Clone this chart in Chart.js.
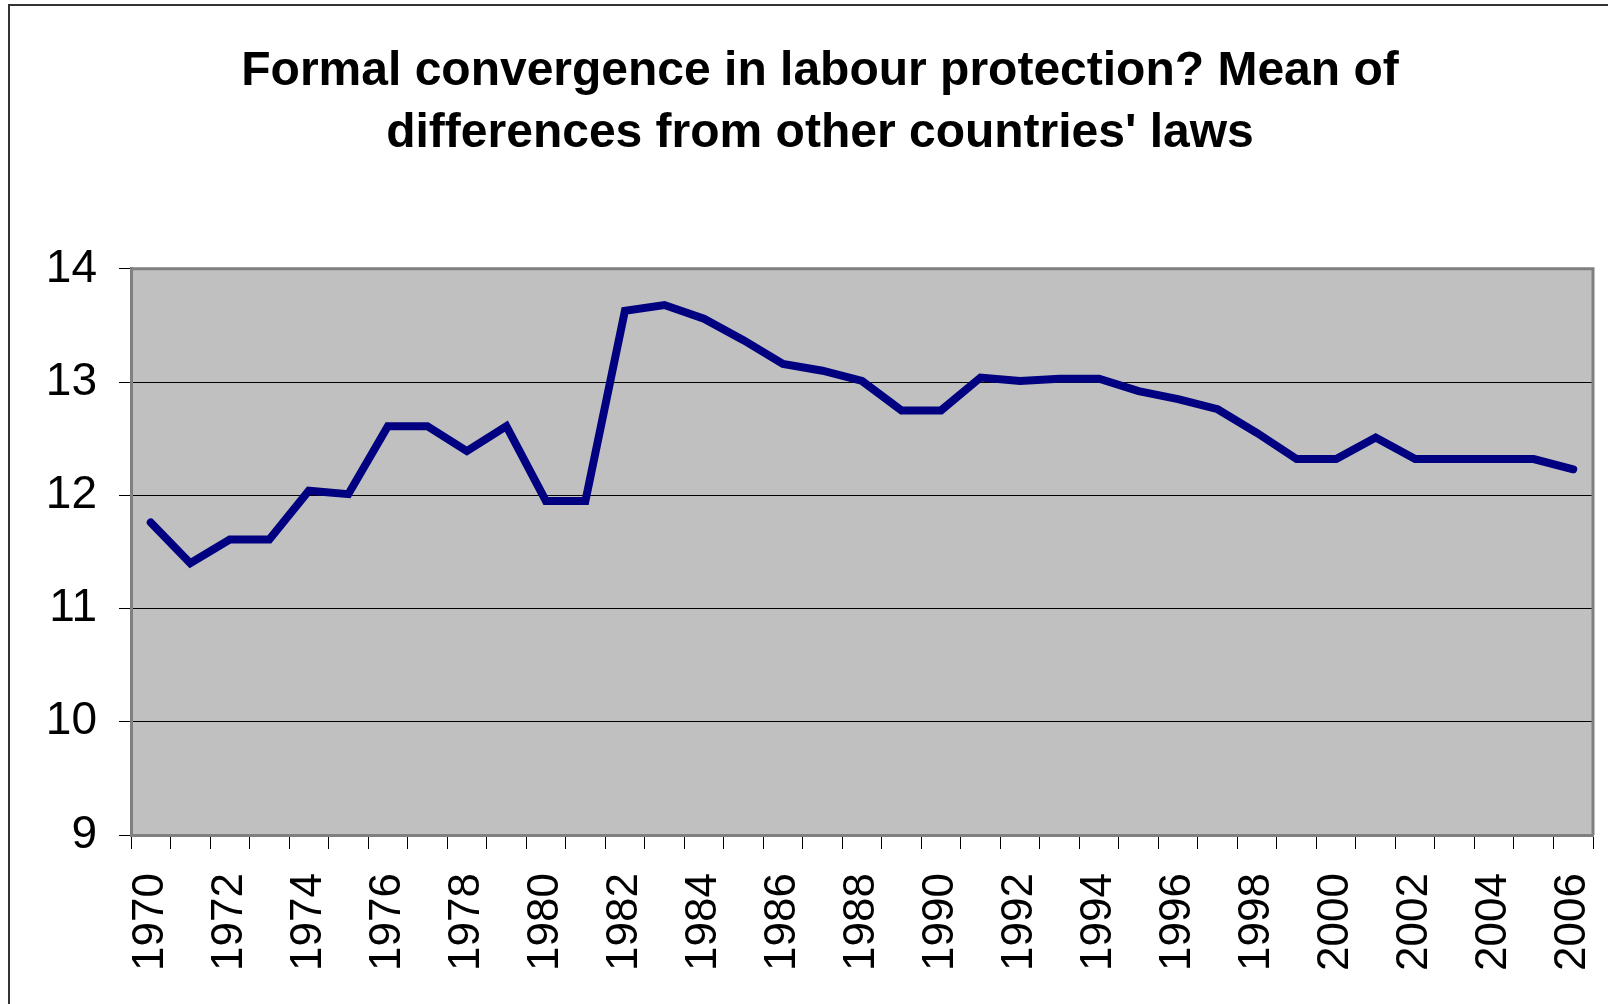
<!DOCTYPE html>
<html>
<head>
<meta charset="utf-8">
<title>Formal convergence in labour protection</title>
<script src="https://cdn.jsdelivr.net/npm/chart.js@4.4.1/dist/chart.umd.min.js"></script>
<style>
    body { margin: 0; background: #fff; overflow: hidden; }
    #wrap { position: relative; width: 1608px; height: 1004px; }
    #frame {
        position: absolute; left: 8px; top: 4px; width: 1700px; height: 1100px;
        border-top: 2px solid #333; border-left: 2px solid #333;
    }
    #chart { position: absolute; left: 0; top: 0; }
</style>
</head>
<body>
<div id="wrap">
    <div id="frame"></div>
    <canvas id="chart" width="1608" height="1004"></canvas>
</div>
<script>
const years = [
    "1970", "1971", "1972", "1973", "1974", "1975", "1976", "1977", "1978", "1979",
    "1980", "1981", "1982", "1983", "1984", "1985", "1986", "1987", "1988", "1989",
    "1990", "1991", "1992", "1993", "1994", "1995", "1996", "1997", "1998", "1999",
    "2000", "2001", "2002", "2003", "2004", "2005", "2006"
];

// mean of differences
const meanDiff = [
    11.76, 11.40, 11.61, 11.61, 12.04, 12.01, 12.61, 12.61, 12.39, 12.61,
    11.95, 11.95, 13.63, 13.68, 13.56, 13.37, 13.16, 13.10, 13.01, 12.75,
    12.75, 13.04, 13.01, 13.03, 13.03, 12.92, 12.85, 12.76, 12.55, 12.32,
    12.32, 12.51, 12.32, 12.32, 12.32, 12.32, 12.23
];

const yMin = 9;
const yMax = 14;

const titleLines = [
    "Formal convergence in labour protection? Mean of",
    "differences from other countries' laws"
];

const fontFamily = "'Liberation Sans', Arial, sans-serif";

// grey plot area with the excel style border
const plotArea = {
    id: "plotArea",
    beforeDraw(chart) {
        let ctx = chart.ctx;
        let a = chart.chartArea;
        ctx.save();
        ctx.fillStyle = "#c0c0c0";
        ctx.fillRect(a.left, a.top, a.right - a.left, a.bottom - a.top);
        ctx.restore();
    },
    afterDraw(chart) {
        let ctx = chart.ctx;
        let a = chart.chartArea;
        ctx.save();
        ctx.strokeStyle = "#808080";
        ctx.lineWidth = 3;
        ctx.beginPath();
        ctx.moveTo(a.left, a.top);
        ctx.lineTo(a.right, a.top);
        ctx.lineTo(a.right, a.bottom);
        ctx.stroke();
        ctx.restore();
    }
};

function setup() {
    let ctx = document.getElementById("chart");
    new Chart(ctx, {
        type: "line",
        data: {
            labels: years,
            datasets: [{
                data: meanDiff,
                borderColor: "#000080",
                borderWidth: 8,
                pointRadius: 0,
                tension: 0,
                borderCapStyle: "round",
                fill: false
            }]
        },
        options: {
            responsive: false,
            animation: false,
            layout: {
                padding: { left: 47, right: 15, top: 0, bottom: 0 }
            },
            plugins: {
                legend: { display: false },
                tooltip: { enabled: false },
                title: {
                    display: true,
                    text: titleLines,
                    color: "#000",
                    font: { family: fontFamily, size: 48, weight: "bold", lineHeight: 1.29 },
                    padding: { top: 41, bottom: 104 }
                }
            },
            scales: {
                x: {
                    offset: true,
                    grid: {
                        offset: true,
                        drawOnChartArea: false,
                        drawTicks: true,
                        tickLength: 14,
                        color: "#000",
                        lineWidth: 1
                    },
                    border: { color: "#808080", width: 3 },
                    ticks: {
                        autoSkip: false,
                        minRotation: 90,
                        maxRotation: 90,
                        padding: 24,
                        color: "#000",
                        font: { family: fontFamily, size: 44 },
                        callback: function (value, index) {
                            return index % 2 === 0 ? this.getLabelForValue(value) : "";
                        }
                    },
                    afterFit: (scale) => {
                        scale.height = 169;
                        scale.paddingLeft = 0;
                        scale.paddingRight = 0;
                    }
                },
                y: {
                    min: yMin,
                    max: yMax,
                    grid: {
                        color: "#000",
                        lineWidth: 1,
                        tickLength: 12
                    },
                    border: { color: "#808080", width: 3 },
                    ticks: {
                        stepSize: 1,
                        padding: 22,
                        color: "#000",
                        font: { family: fontFamily, size: 46 }
                    },
                    afterFit: (scale) => { scale.width = 84; }
                }
            }
        },
        plugins: [plotArea]
    });
}

window.onload = () => {
    setup();
};
</script>
</body>
</html>
